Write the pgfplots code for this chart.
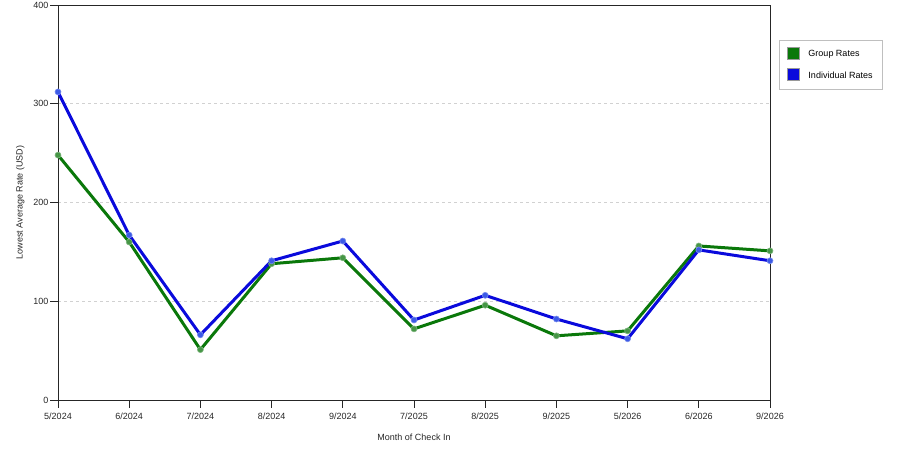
\documentclass[border=0pt]{standalone}
\usepackage{pgfplots}
\pgfplotsset{compat=1.18}
\usepackage{fontspec}
\setmainfont{Liberation Sans}
\definecolor{grp}{RGB}{10,120,10}
\definecolor{ind}{RGB}{10,10,220}
\definecolor{grpm}{RGB}{70,150,70}
\definecolor{indm}{RGB}{60,90,230}
\begin{document}
\begin{tikzpicture}
\path[use as bounding box] (0pt,0pt) rectangle (900pt,450pt);
\begin{axis}[
  at={(58pt,50pt)}, anchor=south west,
  scale only axis, width=712pt, height=395pt,
  xmin=0, xmax=10, ymin=0, ymax=400,
  xtick={0,...,10},
  xticklabels={5/2024,6/2024,7/2024,8/2024,9/2024,7/2025,8/2025,9/2025,5/2026,6/2026,9/2026},
  ytick={0,100,200,300,400},
  tick align=outside, major tick length=8pt,
  xtick pos=bottom, ytick pos=left,
  /pgf/number format/assume math mode=true,
  tick label style={font=\fontsize{9}{10.5}\selectfont, text=black!85},
  label style={font=\fontsize{9}{10.5}\selectfont, text=black!85},
  xlabel={Month of Check In},
  ylabel={Lowest Average Rate (USD)},
  xticklabel style={yshift=-1pt},
  yticklabel style={xshift=2pt},
  xlabel style={yshift=-8pt},
  ylabel style={yshift=2pt},
  axis line style={black!85, line width=0.8pt},
  tick style={black!85, line width=0.8pt},
  ymajorgrids, grid style={dashed, black!18, line width=0.6pt},
  legend style={at={(1.0127,0.911)}, anchor=north west, draw=black!25,
    font=\fontsize{9}{10.5}\selectfont, row sep=8pt,
    inner xsep=8pt, inner ysep=7pt},
  legend cell align=left,
  clip=false,
]
\addplot[grp, line width=3pt, mark=*, mark size=3pt,
  mark options={fill=grpm, draw=grpm!70, line width=0.6pt},
  legend image code/.code={\fill[grp, draw=black!40, line width=0.5pt] (0pt,-5pt) rectangle (12pt,7pt); \path[draw=none,fill=none] (0pt,0pt) -- (19pt,0pt);}]
  coordinates {(0,248) (1,160) (2,51) (3,138) (4,144) (5,72) (6,96) (7,65) (8,70) (9,156) (10,151)};
\addlegendentry{Group Rates}
\addplot[ind, line width=3pt, mark=*, mark size=3pt,
  mark options={fill=indm, draw=indm!70, line width=0.6pt},
  legend image code/.code={\fill[ind, draw=black!40, line width=0.5pt] (0pt,-5pt) rectangle (12pt,7pt); \path[draw=none,fill=none] (0pt,0pt) -- (19pt,0pt);}]
  coordinates {(0,312) (1,167) (2,66) (3,141) (4,161) (5,81) (6,106) (7,82) (8,62) (9,152) (10,141)};
\addlegendentry{Individual Rates}
\end{axis}
\end{tikzpicture}
\end{document}
